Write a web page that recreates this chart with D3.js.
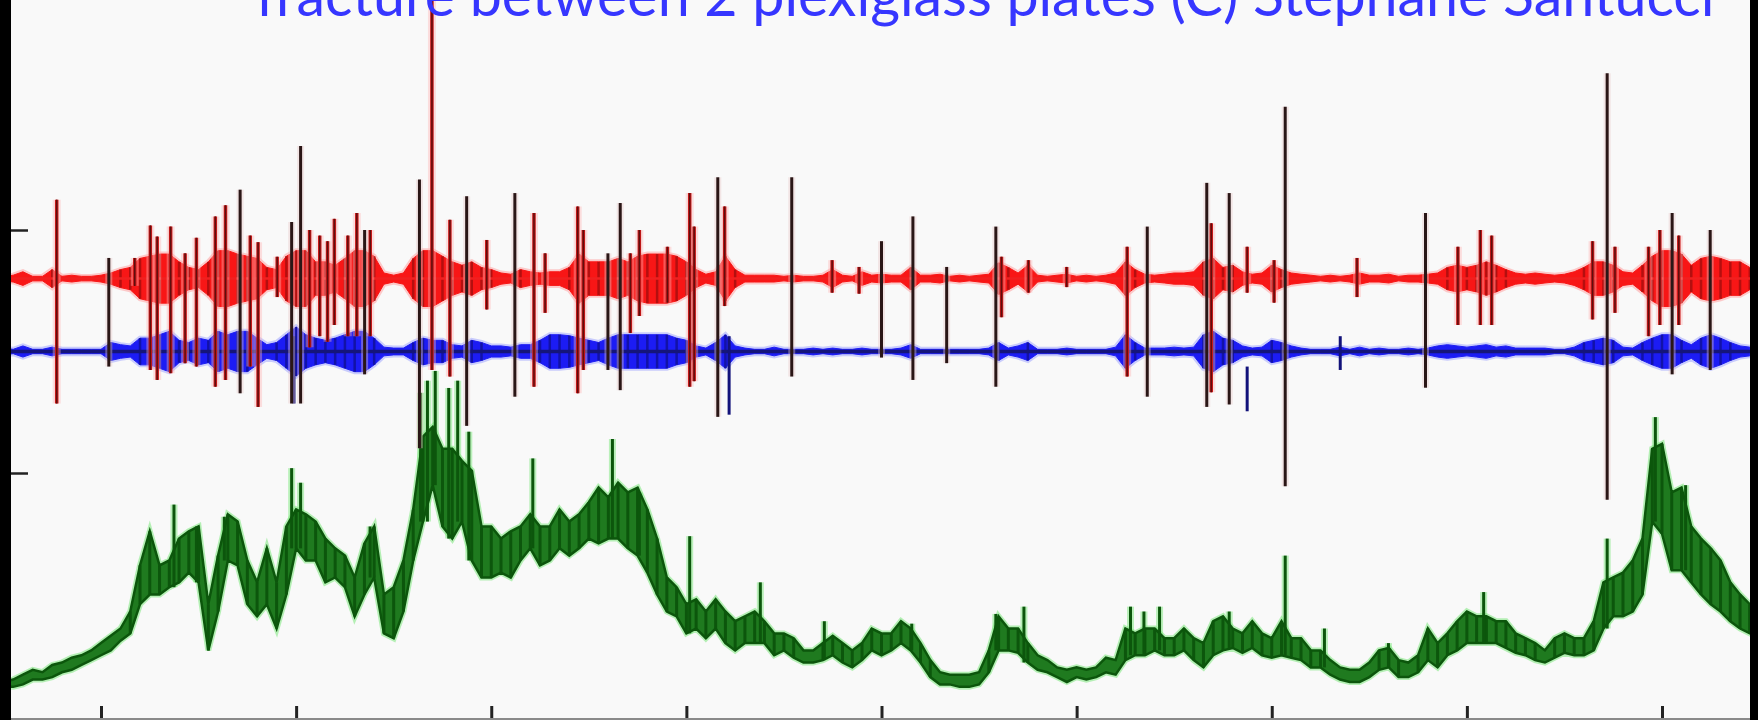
<!DOCTYPE html>
<html><head><meta charset="utf-8">
<script src="https://cdn.jsdelivr.net/npm/d3@7"></script>
<style>html,body{margin:0;padding:0;background:#f9f9f9;overflow:hidden}</style>
</head><body>
<svg id="c" width="1758" height="720"></svg>
<script>
const titleText = "fracture between 2 plexiglass plates (C) Stéphane Santucci";
const xTicks = [1,2,3,4,5,6,7,8,9];
const yTicks = [0,100];
const sampleStart = 0.5, sampleStep = 0.05;
const redOffset = 80, blueOffset = 50;

const redAmp = [0.9,1.4,2.8,0.9,0.9,3.7,0.9,1.4,0.9,0.9,
1.4,2.3,3.7,4.6,8.3,9.2,10.1,10.1,6.9,4.6,
3.7,6.9,11.5,11.5,10.1,9.2,8.3,4.6,3.7,9.2,
11.5,11.5,6.9,6.9,5.5,8.3,11.5,11.5,9.2,2.3,
1.4,2.3,8.3,11.5,11.5,9.2,6.9,5.5,6.9,4.6,
3.7,2.3,1.8,3.7,2.8,2.3,2.8,2.8,4.6,10.1,
6.9,6.9,6.9,8.3,6.9,9.2,10.1,10.1,10.1,9.2,
6.9,3.7,1.8,2.8,9.2,3.7,1.4,1.4,1.4,1.4,
0.9,1.4,0.9,0.9,1.4,3.7,1.4,0.9,2.8,1.4,
1.8,1.4,1.4,4.6,1.4,1.4,1.8,0.9,1.4,0.9,
1.4,1.8,6.5,4.6,2.3,5.5,1.4,0.9,1.4,1.8,
0.9,1.4,0.9,1.4,2.3,6.9,3.7,1.8,1.4,1.8,
2.3,2.3,2.8,6.9,8.3,4.6,5.5,2.8,1.8,2.3,
5.5,3.7,2.3,1.8,1.4,0.9,1.4,0.9,1.4,2.3,
1.4,1.4,1.8,0.9,1.4,1.4,1.8,2.3,4.6,5.5,
4.6,5.5,6.9,5.5,3.7,2.3,1.8,2.3,1.8,1.4,
1.8,2.8,4.6,6.9,6.9,5.5,2.8,2.3,5.5,9.2,
11.5,11.5,10.1,5.5,8.3,9.2,8.3,6.9,6.9,4.6];

const blueAmp = [1.4,0.9,2.3,0.9,0.9,1.8,0.9,0.9,0.9,0.9,
0.9,3.7,2.8,2.3,5.5,5.5,6.9,8.3,4.6,3.7,
5.5,4.6,8.3,6.9,8.3,8.3,5.5,2.8,3.7,6.9,
10.1,6.9,5.5,4.6,5.5,6.9,8.3,8.3,5.5,1.8,
1.4,1.4,3.7,5.5,4.6,4.6,2.8,2.3,4.6,3.7,
2.3,2.3,1.8,2.8,2.8,4.6,6.9,6.9,6.5,5.5,
4.6,3.7,5.5,6.9,6.9,6.9,6.9,6.9,6.9,5.5,
4.6,2.3,1.4,3.7,6.9,2.3,1.4,0.9,0.9,1.8,
0.9,0.9,0.9,1.4,0.9,1.4,0.9,0.9,1.4,0.9,
0.9,0.9,1.4,2.8,0.9,0.9,0.9,0.9,0.9,0.9,
0.9,1.4,3.7,1.4,2.3,3.7,0.9,0.9,0.9,1.4,
0.9,0.9,0.9,0.9,1.8,6.9,3.7,1.4,1.4,1.4,
1.8,1.4,1.8,6.9,8.3,5.5,4.6,2.3,1.4,1.8,
4.6,3.7,2.3,1.4,0.9,0.9,0.9,1.8,0.9,1.8,
0.9,1.4,0.9,0.9,1.4,0.9,1.4,2.3,2.8,2.3,
1.8,2.3,2.8,1.8,2.3,1.4,1.4,1.4,1.4,0.9,
0.9,1.8,3.7,4.6,5.5,4.6,1.8,1.4,3.7,5.5,
6.9,6.9,4.6,2.8,5.5,6.9,5.5,3.7,2.3,1.8];

const greenHi = [-86,-85,-83,-81,-82,-79,-78,-76,-75,-73,
-70,-67,-64,-57,-38,-24,-38,-36,-27,-24,
-22,-54,-34,-17,-20,-36,-45,-31,-45,-22,
-15,-17,-20,-27,-31,-34,-43,-29,-22,-50,
-47,-36,-15,15,19,10,10,5,1,-22,
-22,-27,-24,-22,-17,-22,-22,-15,-20,-17,
-12,-6,-10,-4,-8,-6,-15,-27,-43,-47,
-54,-52,-57,-52,-57,-61,-59,-57,-61,-66,
-66,-68,-73,-73,-70,-67,-70,-73,-70,-64,
-66,-66,-61,-64,-70,-77,-82,-83,-83,-83,
-82,-73,-59,-64,-64,-70,-75,-77,-80,-81,
-80,-81,-80,-76,-77,-64,-66,-64,-64,-68,
-68,-64,-68,-70,-61,-59,-64,-66,-61,-66,
-68,-61,-68,-68,-73,-73,-77,-80,-81,-81,
-78,-73,-72,-77,-78,-75,-64,-70,-66,-61,
-57,-59,-59,-61,-61,-66,-68,-70,-73,-68,
-66,-68,-68,-61,-45,-43,-41,-36,-27,10,
12,-8,-6,-22,-27,-31,-36,-45,-50,-54];

const greenLo = [-88,-88,-87,-85,-85,-84,-82,-81,-79,-77,
-75,-73,-69,-66,-54,-50,-50,-47,-45,-41,
-45,-73,-57,-36,-38,-54,-59,-54,-64,-50,
-31,-36,-36,-45,-43,-47,-59,-50,-43,-66,
-68,-57,-36,-20,-5,-22,-27,-20,-36,-43,
-43,-41,-43,-36,-31,-38,-36,-31,-34,-31,
-27,-29,-27,-27,-31,-34,-41,-50,-57,-59,
-66,-64,-68,-64,-70,-73,-70,-70,-70,-75,
-73,-76,-78,-78,-77,-75,-78,-80,-77,-73,
-75,-73,-70,-73,-78,-84,-87,-87,-88,-88,
-87,-82,-73,-73,-74,-78,-81,-82,-84,-86,
-84,-85,-84,-82,-83,-77,-75,-75,-73,-75,
-75,-73,-77,-80,-75,-73,-72,-74,-72,-75,
-76,-75,-76,-77,-80,-80,-83,-85,-86,-86,
-84,-81,-80,-84,-84,-82,-77,-80,-75,-73,
-70,-70,-70,-70,-72,-74,-75,-77,-78,-76,
-74,-75,-75,-73,-64,-59,-59,-57,-50,-20,
-25,-40,-40,-45,-50,-54,-57,-61,-64,-66];

// [time, top]
const greenSpikes = [[1.374,-13],[1.489,-22],[1.632,-18],[1.977,2],[2.023,-4],[2.379,-22],
[2.638,33],[2.673,38],[2.713,42],[2.782,35],[2.828,38],[2.885,17],[3.213,6],[3.621,14],
[3.759,-8],[4.017,-26],[4.379,-45],[4.707,-61],[5.155,-62],[5.586,-58],[5.730,-55],
[6.276,-55],[6.345,-57],[6.425,-55],[6.782,-57],[7.069,-34],[7.270,-64],[7.598,-70],
[8.086,-49],[8.719,-27],[8.966,23],[9.121,-5]];

// [time, top, bottom]
const redSpikes = [[0.773,112.5,28.6],[1.173,88.5,77],[1.253,101.9,42.4],[1.288,97.3,38.3],
[1.357,101.4,41.1],[1.431,90.4,45.2],[1.489,96.8,43.8],[1.586,105.6,35.5],[1.638,110.2,38.3],
[1.765,97.7,43.8],[1.805,95,27.2],[1.903,89,72.4],[2.069,100,51.7],[2.121,97.7,56.3],
[2.161,95.4,54],[2.196,104.6,60.9],[2.265,97.7,56.3],[2.311,107,56.3],[2.380,100,56.3],
[2.696,194.5,42.4],[2.788,104.2,39.7],[2.977,95.9,67.3],[3.219,107,35.5],[3.276,90.4,65.9],
[3.443,109.7,32.8],[3.472,100,42.4],[3.713,90.4,57.6],[3.759,100,64.6],[3.903,93.1,70.1],
[4.017,115.2,35.5],[4.040,101.4,37.8],[4.196,109.7,68.7],[4.747,87.6,74.2],[4.885,84.8,73.8],
[5.615,89,64.1],[5.753,87.6,74.2],[5.949,84.8,76.5],[6.259,93.1,39.7],[6.690,102.8,33.2],
[6.874,93.1,74.2],[7.012,87.6,70.1],[7.437,88.5,72.4],[7.954,93.1,60.9],[8.069,100,60.9],
[8.127,97.7,60.9],[8.644,95.4,63.2],[8.759,93.1,65.9],[8.931,93.1,56.3],[8.989,100,60.9],
[9.086,97.7,60.9]];

const darkSpikes = [[2.023,134.6,28.6],[2.632,120.8,10.2],[2.874,113.9,19.4],[3.121,115.2,31.4],
[3.661,111.1,34.1],[4.161,121.7,23.1],[4.540,121.7,39.7],[5.161,105.6,38.3],[5.586,101.4,35.5],
[6.362,101.4,31.4],[6.667,119.4,27.2],[6.782,115.2,28.2],[7.069,150.7,-5.5],[7.788,107,35.1],
[8.719,164.5,-11],[1.040,88.5,43.8],[1.713,116.6,32.8],[1.977,103.3,28.6],[2.351,100,40.6],
[3.598,90.4,42.4],[5.000,95.4,47.5],[5.334,84.8,45.2],[9.052,107,40.6],[9.247,100,42.4]];

const blueSpikes = [[1.989,56.3,28.6],[4.219,56.3,24],[6.874,43.8,25.4],[7.351,56.3,42.4]];

const W = 1758, H = 720;
const svg = d3.select("#c");
const x = d3.scaleLinear().domain([1,9]).range([101,1662]);
const y = d3.scaleLinear().domain([0,100]).range([473,230]);

svg.append("rect").attr("width",W).attr("height",H).attr("fill","#f9f9f9");
svg.append("defs").append("clipPath").attr("id","clip")
  .append("rect").attr("x",11).attr("y",0).attr("width",1739).attr("height",718);
const g = svg.append("g").attr("clip-path","url(#clip)");

const tOf = i => sampleStart + i*sampleStep;
const vline = (sel, data, f, color, w, op) => sel.selectAll(null).data(data).enter().append("line")
  .attr("x1",d=>x(f(d)[0])).attr("x2",d=>x(f(d)[0]))
  .attr("y1",d=>y(f(d)[1])).attr("y2",d=>y(f(d)[2]))
  .attr("stroke",color).attr("stroke-width",w).attr("stroke-opacity",op==null?1:op);

// green trace
const greenData = greenHi.map((h,i)=>({t:tOf(i),hi:h,lo:greenLo[i]}));
const gArea = d3.area().x(d=>x(d.t)).y0(d=>y(d.lo)).y1(d=>y(d.hi));
const gIdx = t => Math.round((t-sampleStart)/sampleStep);
g.append("path").datum(greenData).attr("d",gArea)
  .attr("fill","#7be87b").attr("stroke","#7be87b").attr("stroke-width",6).attr("stroke-opacity",0.55).attr("fill-opacity",0.6);
vline(g, greenSpikes, d=>[d[0],d[1],greenLo[gIdx(d[0])]], "#7be87b", 7, 0.5);
g.append("path").datum(greenData).attr("d",gArea)
  .attr("fill","#1f7a1f").attr("stroke","#0c560c").attr("stroke-width",2.5);
vline(g, greenData.filter(d=>d.hi-d.lo>6), d=>[d.t,d.hi,d.lo], "#0c560c", 3);
vline(g, greenSpikes, d=>[d[0],d[1],greenLo[gIdx(d[0])]], "#0c560c", 3);

// blue trace
const blueData = blueAmp.map((a,i)=>({t:tOf(i),a}));
const bArea = d3.area().x(d=>x(d.t)).y0(d=>y(blueOffset-d.a)).y1(d=>y(blueOffset+d.a));
g.append("path").datum(blueData).attr("d",bArea)
  .attr("fill","#9aa0ff").attr("stroke","#9aa0ff").attr("stroke-width",5).attr("opacity",0.5);
g.append("path").datum(blueData).attr("d",bArea)
  .attr("fill","#1c1cf4").attr("stroke","#1c1cf4").attr("stroke-width",1);
vline(g, blueData.filter(d=>d.a>3), d=>[d.t,blueOffset+d.a,blueOffset-d.a], "#1212a8", 2.5);
g.append("line").attr("x1",0).attr("x2",W)
  .attr("y1",y(blueOffset)).attr("y2",y(blueOffset))
  .attr("stroke","#15157a").attr("stroke-width",3.5);
vline(g, blueSpikes, d=>d, "#12127a", 3);

// red trace
const redData = redAmp.map((a,i)=>({t:tOf(i),a}));
const rArea = d3.area().x(d=>x(d.t)).y0(d=>y(redOffset-d.a)).y1(d=>y(redOffset+d.a));
g.append("line").attr("x1",0).attr("x2",W)
  .attr("y1",y(redOffset)).attr("y2",y(redOffset))
  .attr("stroke","#ffb0b0").attr("stroke-width",7).attr("stroke-opacity",0.6);
g.append("path").datum(redData).attr("d",rArea)
  .attr("fill","#ff9a9a").attr("stroke","#ff9a9a").attr("stroke-width",5).attr("opacity",0.5);
g.append("path").datum(redData).attr("d",rArea)
  .attr("fill","#f81616").attr("stroke","#f81616").attr("stroke-width",1);
vline(g, redData.filter(d=>d.a>3), d=>[d.t,redOffset+d.a,redOffset-d.a], "#b40f0f", 2.5);
g.append("line").attr("x1",0).attr("x2",W)
  .attr("y1",y(redOffset)).attr("y2",y(redOffset))
  .attr("stroke","#f02020").attr("stroke-width",2.5);

// spikes
vline(g, redSpikes, d=>d, "#ffb4b4", 8, 0.4);
vline(g, darkSpikes, d=>d, "#e8c8c8", 7, 0.4);
vline(g, redSpikes, d=>d, "#c81818", 3.5);
vline(g, redSpikes, d=>d, "#5e0e0e", 1.5);
vline(g, darkSpikes, d=>d, "#2a1616", 3);

// axes (ticks only)
const gy = svg.append("g").attr("transform","translate(11,0)")
  .call(d3.axisRight(y).tickValues(yTicks).tickSize(17).tickFormat(""));
gy.select(".domain").remove();
gy.selectAll("line").attr("stroke","#222").attr("stroke-width",2.5);
const gx = svg.append("g").attr("transform","translate(0,718)")
  .call(d3.axisTop(x).tickValues(xTicks).tickSize(12).tickFormat(""));
gx.select(".domain").remove();
gx.selectAll("line").attr("stroke","#222").attr("stroke-width",3);
svg.append("line").attr("x1",0).attr("x2",W).attr("y1",719).attr("y2",719)
  .attr("stroke","#8a8a8a").attr("stroke-width",2);

// frame bars
svg.append("rect").attr("x",0).attr("y",0).attr("width",11).attr("height",H).attr("fill","#000");
svg.append("rect").attr("x",1750).attr("y",0).attr("width",8).attr("height",H).attr("fill","#000");

// title (cut by top edge, as in the reference)
const tt = svg.append("text").attr("x",256).attr("y",16)
  .attr("font-family","Lato, 'Open Sans', sans-serif").attr("font-size",50)
  .attr("fill","#3636ff").text(titleText);
const len = tt.node().getComputedTextLength();
tt.attr("font-size", 50*1459/len);
</script>
</body></html>
